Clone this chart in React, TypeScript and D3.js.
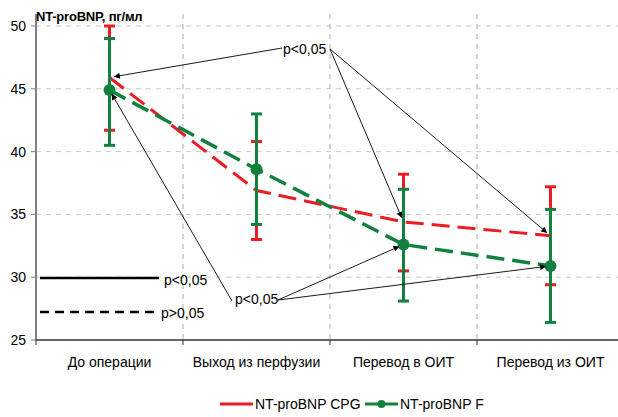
import React from "react";
import * as d3 from "d3";

const categories = ["До операции", "Выход из перфузии", "Перевод в ОИТ", "Перевод из ОИТ"];
const cpgMean = [45.9, 36.9, 34.4, 33.3];
const cpgLow = [41.7, 33.0, 30.5, 29.4];
const cpgHigh = [50.0, 40.8, 38.2, 37.2];
const fMean = [44.9, 38.6, 32.6, 30.9];
const fLow = [40.5, 34.2, 28.1, 26.4];
const fHigh = [49.0, 43.0, 37.0, 35.4];
const yTicks = [25, 30, 35, 40, 45, 50];
const gridTicks = [30, 35, 40, 45, 50];

const RED = "#ec1c24";
const GREEN = "#12803e";
const FONT = "'Liberation Sans', Arial, sans-serif";

const width = 618;
const height = 417;
const margin = { top: 26, left: 36, right: -6, bottom: 77 };

const App = () => {
  const x = d3
    .scaleBand<string>()
    .domain(categories)
    .range([margin.left, width - margin.right]);
  const y = d3
    .scaleLinear()
    .domain([25, 50])
    .range([height - margin.bottom, margin.top]);

  const cx = (i: number) => (x(categories[i]) as number) + x.bandwidth() / 2;
  const line = d3
    .line<number>()
    .x((_, i) => cx(i))
    .y((d) => y(d));

  // arrow from a text anchor to a data point, stopped a bit short
  const arrow = (sx: number, sy: number, i: number, v: number, key: string) => {
    const tx = cx(i);
    const ty = y(v);
    const dx = tx - sx;
    const dy = ty - sy;
    const len = Math.sqrt(dx * dx + dy * dy);
    const k = (len - 5) / len;
    return (
      <line
        key={key}
        x1={sx}
        y1={sy}
        x2={sx + dx * k}
        y2={sy + dy * k}
        stroke="#000"
        strokeWidth={0.9}
        markerEnd="url(#arr)"
      />
    );
  };

  const errBars = (lo: number[], hi: number[], color: string, cap: number) =>
    lo.map((l, i) => (
      <g key={i} stroke={color} strokeWidth={3}>
        <line x1={cx(i)} x2={cx(i)} y1={y(l)} y2={y(hi[i])} />
        <line x1={cx(i) - cap / 2} x2={cx(i) + cap / 2} y1={y(l)} y2={y(l)} />
        <line x1={cx(i) - cap / 2} x2={cx(i) + cap / 2} y1={y(hi[i])} y2={y(hi[i])} />
      </g>
    ));

  const x0 = margin.left;
  const yBottom = y(25);

  return (
    <svg
      width={width}
      height={height}
      style={{ position: "absolute", left: 0, top: 0, background: "#fff" }}
      fontFamily={FONT}
    >
      <defs>
        <marker
          id="arr"
          viewBox="0 0 10 10"
          refX="9"
          refY="5"
          markerWidth="7"
          markerHeight="6"
          markerUnits="userSpaceOnUse"
          orient="auto"
        >
          <path d="M0,0 L10,5 L0,10 z" fill="#000" />
        </marker>
      </defs>

      {/* grid */}
      {gridTicks.map((t) => (
        <line
          key={"h" + t}
          x1={x0}
          x2={width}
          y1={y(t)}
          y2={y(t)}
          stroke="#c8c8c8"
          strokeWidth={1}
          strokeDasharray="5,5"
        />
      ))}
      {categories.slice(1).map((c) => (
        <line
          key={"v" + c}
          x1={x(c)}
          x2={x(c)}
          y1={14}
          y2={yBottom}
          stroke="#c8c8c8"
          strokeWidth={1.5}
          strokeDasharray="5,5"
        />
      ))}

      {/* axes */}
      <line x1={x0} x2={x0} y1={14} y2={yBottom} stroke="#808080" strokeWidth={2} />
      {yTicks.map((t) => (
        <g key={"yt" + t}>
          <line x1={x0 - 5} x2={x0} y1={y(t)} y2={y(t)} stroke="#808080" strokeWidth={1} />
          <text x={26} y={y(t) + 5} textAnchor="end" fontSize={14} fill="#000">
            {t}
          </text>
        </g>
      ))}
      <line x1={x0} x2={width} y1={yBottom} y2={yBottom} stroke="#333" strokeWidth={1.5} />
      {categories.map((c) => (
        <line
          key={"xt" + c}
          x1={x(c)}
          x2={x(c)}
          y1={yBottom}
          y2={yBottom + 5}
          stroke="#333"
          strokeWidth={1}
        />
      ))}
      {categories.map((c, i) => (
        <text key={"xl" + c} x={cx(i)} y={367} textAnchor="middle" fontSize={14} fill="#000">
          {c}
        </text>
      ))}

      <text x={36} y={21} fontSize={13} fontWeight="bold" letterSpacing={-0.2} fill="#000">
        NT-proBNP, пг/мл
      </text>

      {/* series lines */}
      <path d={line(cpgMean) as string} fill="none" stroke={RED} strokeWidth={3} strokeDasharray="18,8" />
      <path d={line(fMean) as string} fill="none" stroke={GREEN} strokeWidth={3.5} strokeDasharray="18,8" />

      {/* error bars */}
      {errBars(cpgLow, cpgHigh, RED, 11)}
      {errBars(fLow, fHigh, GREEN, 11)}
      {fMean.map((v, i) => (
        <circle key={"m" + i} cx={cx(i)} cy={y(v)} r={6} fill={GREEN} />
      ))}

      {/* significance annotations */}
      <text x={283} y={54} fontSize={14} fill="#000">
        p&lt;0,05
      </text>
      {arrow(282, 48, 0, cpgMean[0], "a1")}
      {arrow(330, 49, 2, cpgMean[2], "a2")}
      {arrow(330, 49, 3, cpgMean[3], "a3")}

      <text x={235} y={304} fontSize={14} fill="#000">
        p&lt;0,05
      </text>
      {arrow(232, 301, 0, fMean[0], "b1")}
      {arrow(278, 300, 2, fMean[2], "b2")}
      {arrow(278, 300, 3, fMean[3], "b3")}

      {/* line-style key */}
      <line x1={40} x2={159} y1={278} y2={278} stroke="#000" strokeWidth={2.5} />
      <text x={164} y={285} fontSize={14} fill="#000">
        p&lt;0,05
      </text>
      <line
        x1={40}
        x2={158}
        y1={312}
        y2={312}
        stroke="#000"
        strokeWidth={2.5}
        strokeDasharray="9,6"
      />
      <text x={161} y={318} fontSize={14} fill="#000">
        p&gt;0,05
      </text>

      {/* legend */}
      <line x1={220} x2={253} y1={404} y2={404} stroke={RED} strokeWidth={3} />
      <text x={255} y={409} fontSize={14} fill="#000">
        NT-proBNP CPG
      </text>
      <line x1={365} x2={398} y1={404} y2={404} stroke={GREEN} strokeWidth={3} />
      <circle cx={381.5} cy={404} r={4} fill={GREEN} />
      <text x={400} y={409} fontSize={14} fill="#000">
        NT-proBNP F
      </text>
    </svg>
  );
};

export default App;
